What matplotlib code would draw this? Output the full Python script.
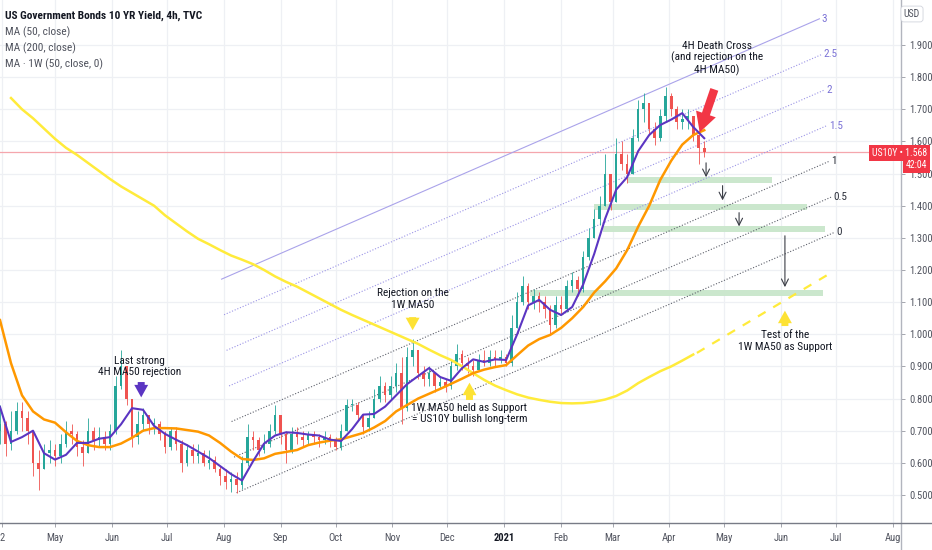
import numpy as np
import pandas as pd
import matplotlib
matplotlib.use('Agg')
import matplotlib.pyplot as plt
import matplotlib.dates as mdates
from matplotlib import font_manager
from matplotlib.font_manager import FontProperties
from matplotlib.lines import Line2D
from matplotlib.patches import Rectangle

# ---- pick a narrow sans if one is installed ----
def find_narrow(bold=False):
    cands = []
    for f in font_manager.fontManager.ttflist:
        nm = f.name + ' ' + f.fname
        narrow = ('Narrow' in nm or 'Condensed' in nm or
                  str(f.stretch) in ('condensed', 'semi-condensed', '75', '87.5'))
        if not narrow or 'Extra' in nm or 'Ultra' in nm or 'Italic' in f.fname or 'Oblique' in f.fname:
            continue
        w = f.weight if isinstance(f.weight, int) else {'normal': 400, 'bold': 700}.get(f.weight, 400)
        if bold and w < 600:
            continue
        if not bold and w != 400:
            continue
        pr = 0 if 'Liberation' in f.name else 1 if 'Roboto' in f.name else 2 if 'Open' in f.name else 3
        cands.append((pr, f.fname))
    cands.sort()
    return cands[0][1] if cands else None

REG = find_narrow(False)
BLD = find_narrow(True) or REG

def fp(size, bold=False):
    path = BLD if bold else REG
    if path:
        return FontProperties(fname=path, size=size)
    return FontProperties(family=['Liberation Sans', 'DejaVu Sans'], size=size * 0.88,
                          weight='bold' if bold else 'normal')

# ---------------- data ----------------
first_open = 0.70
close = [0.72, 0.66, 0.70, 0.76, 0.74, 0.70, 0.60, 0.58, 0.63, 0.64,
         0.62, 0.66, 0.70, 0.69, 0.65, 0.63, 0.70, 0.67, 0.68, 0.66,
         0.70, 0.84, 0.90, 0.80, 0.68, 0.72, 0.75, 0.72, 0.72, 0.69,
         0.65, 0.70, 0.66, 0.60, 0.64, 0.62, 0.63, 0.60, 0.61, 0.58,
         0.56, 0.54, 0.55, 0.53, 0.60, 0.68, 0.67, 0.64, 0.66, 0.70,
         0.75, 0.69, 0.64, 0.69, 0.68, 0.67, 0.69, 0.68, 0.67, 0.68,
         0.67, 0.65, 0.70, 0.78, 0.78, 0.75, 0.71, 0.74, 0.80, 0.84,
         0.81, 0.84, 0.88, 0.77, 0.93, 0.95, 0.88, 0.86, 0.88, 0.84,
         0.85, 0.84, 0.90, 0.94, 0.91, 0.90, 0.89, 0.92, 0.91, 0.93,
         0.92, 0.93, 0.91, 1.02, 1.10, 1.15, 1.10, 1.12, 1.10, 1.08,
         1.03, 1.09, 1.08, 1.15, 1.17, 1.14, 1.24, 1.30, 1.36, 1.40,
         1.50, 1.41, 1.56, 1.53, 1.50, 1.61, 1.70, 1.72, 1.64, 1.61,
         1.68, 1.74, 1.70, 1.66, 1.67, 1.68, 1.62, 1.58, 1.568]
high = [0.78, 0.73, 0.76, 0.79, 0.79, 0.76, 0.70, 0.64, 0.66, 0.67,
        0.66, 0.69, 0.73, 0.72, 0.70, 0.67, 0.74, 0.71, 0.71, 0.70,
        0.72, 0.87, 0.95, 0.88, 0.80, 0.76, 0.77, 0.75, 0.74, 0.73,
        0.70, 0.71, 0.71, 0.67, 0.66, 0.66, 0.66, 0.64, 0.64, 0.62,
        0.59, 0.58, 0.57, 0.57, 0.62, 0.72, 0.70, 0.68, 0.69, 0.72,
        0.78, 0.74, 0.70, 0.71, 0.71, 0.70, 0.70, 0.70, 0.69, 0.70,
        0.69, 0.68, 0.72, 0.80, 0.80, 0.79, 0.75, 0.76, 0.83, 0.87,
        0.85, 0.87, 0.91, 0.93, 0.96, 0.985, 0.94, 0.90, 0.90, 0.88,
        0.87, 0.86, 0.92, 0.97, 0.95, 0.93, 0.92, 0.94, 0.95, 0.95,
        0.95, 0.95, 0.94, 1.06, 1.13, 1.18, 1.16, 1.14, 1.13, 1.12,
        1.09, 1.12, 1.12, 1.17, 1.195, 1.18, 1.26, 1.33, 1.39, 1.43,
        1.56, 1.50, 1.61, 1.60, 1.56, 1.64, 1.73, 1.75, 1.72, 1.66,
        1.70, 1.77, 1.75, 1.71, 1.70, 1.70, 1.68, 1.62, 1.60]
low = [0.66, 0.62, 0.64, 0.69, 0.70, 0.66, 0.56, 0.515, 0.58, 0.60,
       0.59, 0.60, 0.65, 0.66, 0.62, 0.59, 0.63, 0.64, 0.65, 0.64,
       0.64, 0.69, 0.83, 0.78, 0.65, 0.66, 0.70, 0.69, 0.69, 0.67,
       0.63, 0.64, 0.64, 0.57, 0.59, 0.60, 0.60, 0.59, 0.58, 0.57,
       0.53, 0.52, 0.51, 0.505, 0.52, 0.59, 0.64, 0.62, 0.63, 0.65,
       0.69, 0.66, 0.60, 0.63, 0.66, 0.65, 0.66, 0.66, 0.65, 0.66,
       0.65, 0.64, 0.64, 0.70, 0.76, 0.73, 0.69, 0.70, 0.74, 0.79,
       0.79, 0.80, 0.82, 0.72, 0.76, 0.90, 0.86, 0.84, 0.84, 0.82,
       0.83, 0.82, 0.83, 0.89, 0.89, 0.88, 0.87, 0.89, 0.90, 0.90,
       0.90, 0.91, 0.90, 0.90, 1.02, 1.09, 1.08, 1.08, 1.07, 1.05,
       1.00, 1.02, 1.06, 1.07, 1.13, 1.12, 1.13, 1.23, 1.30, 1.34,
       1.40, 1.387, 1.41, 1.51, 1.47, 1.50, 1.60, 1.66, 1.62, 1.59,
       1.60, 1.66, 1.68, 1.64, 1.64, 1.64, 1.60, 1.53, 1.55]

ma50_4h = [0.774, 0.665, 0.68, 0.70, 0.63, 0.61, 0.625, 0.662, 0.662, 0.675,
           0.68, 0.72, 0.77, 0.765, 0.715, 0.69, 0.672, 0.655, 0.635, 0.615,
           0.59, 0.565, 0.545, 0.605, 0.66, 0.685, 0.695, 0.693, 0.688, 0.685,
           0.672, 0.668, 0.705, 0.75, 0.752, 0.775, 0.81, 0.845, 0.87, 0.895,
           0.867, 0.855, 0.895, 0.922, 0.914, 0.922, 0.92, 1.00, 1.09, 1.107,
           1.076, 1.06, 1.085, 1.155, 1.25, 1.36, 1.45, 1.489, 1.57, 1.62,
           1.651, 1.668, 1.688, 1.645, 1.61]
ma200_4h = [1.044, 0.91, 0.81, 0.76, 0.735, 0.725, 0.695, 0.668, 0.655, 0.649,
            0.649, 0.66, 0.678, 0.70, 0.708, 0.708, 0.707, 0.702, 0.697, 0.685,
            0.662, 0.635, 0.612, 0.609, 0.614, 0.628, 0.634, 0.640, 0.655, 0.663,
            0.669, 0.673, 0.683, 0.693, 0.71, 0.73, 0.76, 0.78, 0.80, 0.815,
            0.83, 0.846, 0.862, 0.879, 0.89, 0.898, 0.904, 0.935, 0.965, 0.985,
            0.998, 1.02, 1.05, 1.085, 1.13, 1.165, 1.205, 1.262, 1.335, 1.40,
            1.48, 1.54, 1.59, 1.62, 1.635]
ma50_1w = [np.nan, 1.735, 1.70, 1.672, 1.64, 1.608, 1.58, 1.558, 1.533, 1.508,
           1.483, 1.46, 1.44, 1.42, 1.40, 1.37, 1.345, 1.32, 1.297, 1.28,
           1.262, 1.245, 1.232, 1.218, 1.20, 1.18, 1.163, 1.148, 1.13, 1.112,
           1.094, 1.076, 1.06, 1.045, 1.03, 1.015, 1.00, 0.985, 0.97, 0.952,
           0.935, 0.92, 0.90, 0.879, 0.858, 0.84, 0.826, 0.813, 0.803, 0.796,
           0.79, 0.786, 0.785, 0.786, 0.79, 0.797, 0.808, 0.825, 0.848, 0.867,
           0.885, 0.90, 0.918, 0.937, np.nan]
proj_dates = ['2021-04-16', '2021-06-26']
proj_values = [0.942, 1.184]

last_price = 1.568
price_label = 'US10Y \u2022 1.568'
countdown = '42:04'

# fib channel: base line (level 0) and per-level shift
chan_start = ('2020-08-08', 0.507)
chan_end = ('2021-06-30', 1.317)
chan_shift_days = -2.73
chan_shift_value = 0.2215
chan_levels = [0, 0.5, 1, 1.5, 2, 2.5, 3]
chan_labels = ['0', '0.5', '1', '1.5', '2', '2.5', '3']

# support zones (start, end, low, high)
zone_start = ['2021-03-09', '2021-02-19', '2021-02-24', '2021-01-15']
zone_end = ['2021-05-27', '2021-06-15', '2021-06-25', '2021-06-24']
zone_low = [1.471, 1.387, 1.318, 1.119]
zone_high = [1.489, 1.405, 1.337, 1.138]

# projection arrows (date, from, to)
arrow_dates = ['2021-04-21', '2021-04-30', '2021-05-09', '2021-06-03']
arrow_from = [1.542, 1.471, 1.387, 1.315]
arrow_to = [1.480, 1.408, 1.327, 1.138]

month_ticks = ['2020-04-02', '2020-05-01', '2020-06-01', '2020-07-01', '2020-08-01', '2020-09-01',
               '2020-10-01', '2020-11-01', '2020-12-01', '2021-01-01', '2021-02-01',
               '2021-03-01', '2021-04-01', '2021-05-01', '2021-06-01', '2021-07-01',
               '2021-08-01']
month_labels = ['2', 'May', 'Jun', 'Jul', 'Aug', 'Sep', 'Oct', 'Nov', 'Dec', '2021',
                'Feb', 'Mar', 'Apr', 'May', 'Jun', 'Jul', 'Aug']
y_ticks = [0.5, 0.6, 0.7, 0.8, 0.9, 1.0, 1.1, 1.2, 1.3, 1.4, 1.5, 1.6, 1.7, 1.8, 1.9]
y_labels = ['0.500', '0.600', '0.700', '0.800', '0.900', '1.000', '1.100', '1.200',
            '1.300', '1.400', '1.500', '1.600', '1.700', '1.800', '1.900']

# ---------------- figure ----------------
W, H = 932, 550
fig = plt.figure(figsize=(W / 100, H / 100), dpi=100)
ax = fig.add_axes([0, 27 / H, 901 / W, 523 / H])
for s in ax.spines.values():
    s.set_visible(False)

d2n = lambda d: mdates.date2num(pd.Timestamp(d))

candle_dates = mdates.date2num(pd.date_range('2020-04-01', periods=len(close), freq='3D'))
ma_dates = mdates.date2num(pd.date_range('2020-04-01', periods=len(ma50_4h), freq='6D'))

ax.set_xlim(d2n('2020-04-01'), d2n('2021-08-05 07:00'))
ax.set_ylim(0.4128, 2.040)

# grid / ticks
ax.set_xticks([d2n(d) for d in month_ticks])
ax.set_xticklabels(month_labels)
ax.set_yticks(y_ticks)
ax.set_yticklabels(y_labels)
ax.grid(True, color='#eef0f4', lw=0.9, zorder=0)
ax.set_axisbelow(True)
ax.yaxis.tick_right()
ax.tick_params(axis='y', length=3, width=0.6, color='#9598a1', labelcolor='#50535e', pad=3)
ax.tick_params(axis='x', length=3, width=0.6, color='#9598a1', labelcolor='#50535e', pad=4)
for lbl in ax.get_yticklabels():
    lbl.set_fontproperties(fp(7.6))
for lbl in ax.get_xticklabels():
    if lbl.get_text() == '2021':
        lbl.set_fontproperties(fp(7.6, True))
        lbl.set_color('#131722')
    else:
        lbl.set_fontproperties(fp(7.6))

# current price line
ax.axhline(last_price, color='#f5a6ad', lw=0.9, zorder=1)

# support zones
for s, e, lo, hi in zip(zone_start, zone_end, zone_low, zone_high):
    ax.add_patch(Rectangle((d2n(s), lo), d2n(e) - d2n(s), hi - lo,
                           facecolor='#c9e6cb', edgecolor='none', alpha=0.95, zorder=1))

# fib channel
x0, y0 = d2n(chan_start[0]), chan_start[1]
x1, y1 = d2n(chan_end[0]), chan_end[1]
for lev, lab in zip(chan_levels, chan_labels):
    xs = [x0 + lev * chan_shift_days, x1 + lev * chan_shift_days]
    ys = [y0 + lev * chan_shift_value, y1 + lev * chan_shift_value]
    if lev <= 1:
        col, ls, tc = '#5d606b', (0, (1, 1.6)), '#2a2e39'
    elif lev < 3:
        col, ls, tc = '#9b94e6', (0, (1, 1.6)), '#7b72d6'
    else:
        col, ls, tc = '#aaa3ea', '-', '#7b72d6'
    ax.plot(xs, ys, color=col, lw=0.8, ls=ls, zorder=2)
    ax.text(xs[1] + 1.0, ys[1], lab, color=tc, va='center', ha='left', zorder=6,
            fontproperties=fp(8))

# candles
opens = [first_open] + close[:-1]
for xd, o, h, l, c in zip(candle_dates, opens, high, low, close):
    col = '#26a69a' if c >= o else '#ef5350'
    ax.plot([xd, xd], [l, h], color=col, lw=0.6, zorder=3, solid_capstyle='butt')
    bot, top = min(o, c), max(o, c)
    ax.add_patch(Rectangle((xd - 0.7, bot), 1.4, max(top - bot, 0.004),
                           facecolor=col, edgecolor='none', zorder=3))

# moving averages
ax.plot(ma_dates, ma50_1w, color='#ffeb3b', lw=1.8, zorder=4)
ax.plot([d2n(d) for d in proj_dates], proj_values, color='#ffeb3b', lw=1.6,
        ls=(0, (4, 4)), zorder=4)
ax.plot(ma_dates, ma200_4h, color='#ff9800', lw=1.8, zorder=4)
ax.plot(ma_dates, ma50_4h, color='#5b35c2', lw=1.5, zorder=5)

# thin projection arrows
for d, a, b in zip(arrow_dates, arrow_from, arrow_to):
    ax.annotate('', xy=(d2n(d), b), xytext=(d2n(d), a),
                arrowprops=dict(arrowstyle='->,head_width=0.25,head_length=0.5',
                                color='#3a3d46', lw=0.8), zorder=6)

# fat marker arrows
def fat_arrow(date, v_from, v_to, color, hw=1.0, hl=0.9, tw=0.5):
    ax.annotate('', xy=(d2n(date), v_to), xytext=(d2n(date), v_from),
                arrowprops=dict(arrowstyle=f'simple,head_width={hw},head_length={hl},tail_width={tw}',
                                color=color, lw=0), zorder=7)

fat_arrow('2020-06-17', 0.860, 0.795, '#5b35c2')
fat_arrow('2020-11-12', 1.062, 1.004, '#fde234')
fat_arrow('2020-12-13', 0.787, 0.858, '#fde234')
fat_arrow('2021-06-03', 1.017, 1.082, '#fde234')
ax.annotate('', xy=(d2n('2021-04-17'), 1.620), xytext=(d2n('2021-04-26'), 1.770),
            arrowprops=dict(arrowstyle='simple,head_width=1.5,head_length=1.4,tail_width=0.6',
                            color='#f23645', lw=0), zorder=7)

# text annotations
txt_kw = dict(color='#131722', ha='center', va='center', linespacing=1.15, zorder=8)
ann_fp = fp(8.2)
ax.text(d2n('2020-06-16'), 0.900, 'Last strong\n4H MA50 rejection', fontproperties=ann_fp, **txt_kw)
ax.text(d2n('2020-11-12'), 1.110, 'Rejection on the\n1W MA50', fontproperties=ann_fp, **txt_kw)
ax.text(d2n('2020-12-13'), 0.753, '1W MA50 held as Support\n= US10Y bullish long-term',
        fontproperties=ann_fp, **txt_kw)
ax.text(d2n('2021-04-27'), 1.858, '4H Death Cross\n(and rejection on the\n4H MA50)',
        fontproperties=ann_fp, **txt_kw)
ax.text(d2n('2021-06-03'), 0.979, 'Test of the\n1W MA50 as Support', fontproperties=ann_fp, **txt_kw)

# frame lines (right scale border and bottom axis)
fig.add_artist(Line2D([901 / W, 901 / W], [0, 1], transform=fig.transFigure,
                      color='#b2b5be', lw=1.0))
fig.add_artist(Line2D([0, 1], [27 / H, 27 / H], transform=fig.transFigure,
                      color='#787b86', lw=1.0))

# legend
fig.text(5 / W, 1 - 16 / H, 'US Government Bonds 10 YR Yield, 4h, TVC', color='#131722',
         va='center', ha='left', fontproperties=fp(8.2, True))
for i, t in enumerate(['MA (50, close)', 'MA (200, close)', 'MA \u00b7 1W (50, close, 0)']):
    fig.text(5 / W, 1 - (32 + 16 * i) / H, t, color='#50535e', va='center', ha='left',
             fontproperties=fp(8.2))

# price label
fig.text(927 / W, 1 - 153 / H, price_label, color='white', ha='right', va='center',
         fontproperties=fp(7.0),
         bbox=dict(boxstyle='square,pad=0.3', fc='#f23645', ec='none'), zorder=10)
fig.text(927 / W, 1 - 165 / H, countdown, color='white', ha='right', va='center',
         fontproperties=fp(7.0),
         bbox=dict(boxstyle='square,pad=0.3', fc='#f23645', ec='none'), zorder=10)
fig.text(912 / W, 1 - 14 / H, 'USD', color='#50535e', ha='center', va='center',
         fontproperties=fp(7),
         bbox=dict(boxstyle='round,pad=0.3', fc='white', ec='#d1d4dc', lw=0.6))

fig.savefig('out.png', dpi=100)
